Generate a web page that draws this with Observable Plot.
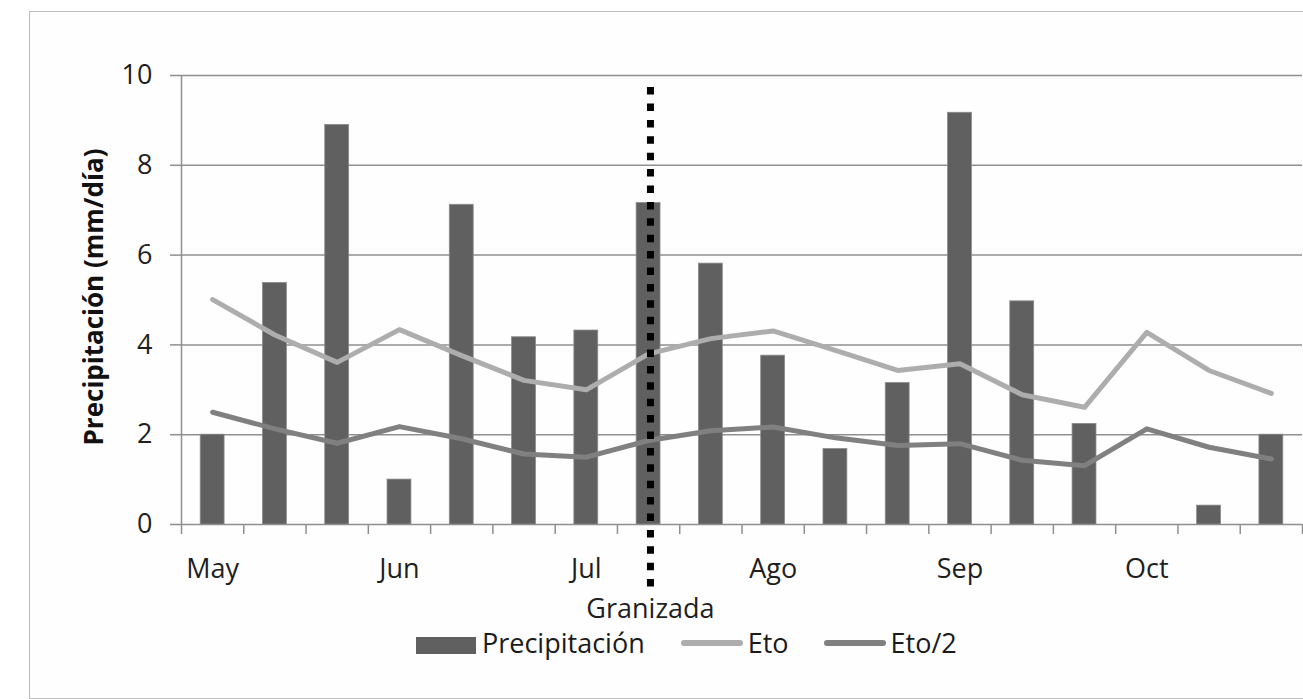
<!DOCTYPE html>
<html>
<head>
<meta charset="utf-8">
<script src="https://cdn.jsdelivr.net/npm/d3@7"></script>
<script src="https://cdn.jsdelivr.net/npm/@observablehq/plot@0.6"></script>
<style>
  html, body { margin: 0; padding: 0; background: #ffffff; }
  body { width: 1303px; height: 699px; overflow: hidden; position: relative; font-family: "Open Sans", sans-serif; }
  #frame { position: absolute; left: 29px; top: 11px; width: 1400px; height: 686px; border: 1px solid #bdbdbd; background: #fefefe; }
  #chart { position: absolute; left: 0; top: 0; }
  #legend { position: absolute; left: 0; top: 629px; height: 40px; display: flex; align-items: flex-start; padding-left: 416px; font-size: 27px; line-height: 27px; color: #1a1a1a; }
  #legend .sw-bar { width: 60px; height: 17px; background: #606060; margin-top: 8px; margin-right: 6px; }
  #legend .sw-line { width: 62px; height: 6px; border-radius: 3px; margin-top: 11px; margin-right: 5px; }
  #legend .item { display: flex; align-items: flex-start; }
</style>
</head>
<body>
<div id="frame"></div>
<div id="chart"></div>
<div id="legend"></div>
<script>
// Ten-day periods (decades) from May to October
const categories = [
  "May I", "May II", "May III",
  "Jun I", "Jun II", "Jun III",
  "Jul I", "Jul II", "Jul III",
  "Ago I", "Ago II", "Ago III",
  "Sep I", "Sep II", "Sep III",
  "Oct I", "Oct II", "Oct III"
];
const monthLabels = ["May", "Jun", "Jul", "Ago", "Sep", "Oct"];
const precipitacion = [2.0, 5.38, 8.90, 1.0, 7.12, 4.17, 4.32, 7.16, 5.81, 3.76, 1.68, 3.15, 9.17, 4.97, 2.24, 0, 0.42, 2.0];
const eto = [5.01, 4.22, 3.61, 4.34, 3.76, 3.21, 3.0, 3.80, 4.14, 4.31, 3.88, 3.43, 3.58, 2.89, 2.61, 4.28, 3.43, 2.92];
const eto2 = [2.50, 2.13, 1.81, 2.18, 1.91, 1.57, 1.50, 1.87, 2.09, 2.17, 1.93, 1.76, 1.80, 1.43, 1.31, 2.13, 1.72, 1.46];
const yTicks = [0, 2, 4, 6, 8, 10];
const seriesNames = ["Precipitación", "Eto", "Eto/2"];
const yLabel = "Precipitación (mm/día)";
// hail event, in decade units from the start of May
const granizada = [{at: 7.53, top: 9.73, bottom: -1.40, label: "Granizada"}];

const colBar = "#606060", colEto = "#adadad", colEto2 = "#808080", colGrid = "#8f8f8f", colText = "#1f1f1f";

const data = categories.map((c, i) => ({i, cat: c, precip: precipitacion[i], eto: eto[i], eto2: eto2[i]}));
const monthTicks = categories.map((c, i) => c.endsWith(" I") ? i + 0.5 : null).filter(v => v !== null);

const chart = Plot.plot({
  width: 1303,
  height: 625,
  marginLeft: 181,
  marginRight: 1,
  marginTop: 75,
  marginBottom: 101,
  x: {type: "linear", domain: [0, categories.length], label: null},
  y: {domain: [0, 10], label: null},
  style: {fontFamily: "Open Sans", fontSize: "27px", background: "transparent", overflow: "visible", color: colText},
  marks: [
    Plot.gridY(yTicks, {stroke: colGrid, strokeOpacity: 1, strokeWidth: 1.5}),
    Plot.axisY({ticks: yTicks, tickSize: 11, tickPadding: 18, stroke: colGrid, strokeWidth: 1.5, fill: colText, tickFormat: d => String(d), label: null}),
    Plot.ruleX([0], {y1: 0, y2: 10, stroke: colGrid, strokeWidth: 1.5}),
    Plot.axisX({ticks: d3.range(categories.length + 1), tickSize: 10, tickFormat: () => "", stroke: colGrid, strokeWidth: 1.5, label: null}),
    Plot.axisX({ticks: monthTicks, tickSize: 0, tickPadding: 34, tickFormat: (v, k) => monthLabels[k], fill: colText, label: null}),
    Plot.rectY(data, {x1: "i", x2: d => d.i + 1, y1: 0, y2: "precip", insetLeft: 19.2, insetRight: 19.2, fill: colBar, stroke: "#8a8a8a", strokeWidth: 0.8}),
    Plot.line(data, {x: d => d.i + 0.5, y: "eto", stroke: colEto, strokeWidth: 5, strokeLinejoin: "round", strokeLinecap: "round"}),
    Plot.line(data, {x: d => d.i + 0.5, y: "eto2", stroke: colEto2, strokeWidth: 5, strokeLinejoin: "round", strokeLinecap: "round"}),
    Plot.ruleX(granizada, {x: "at", y1: "top", y2: "bottom", stroke: "#000", strokeWidth: 7, strokeDasharray: "7.5 8.9"}),
    Plot.text(granizada, {x: "at", y: 0, dy: 85, text: "label", fill: colText, fontSize: 27}),
    Plot.text([yLabel], {frameAnchor: "left", textAnchor: "middle", rotate: -90, dx: -87, dy: -3, fontWeight: "bold", fontSize: 26, letterSpacing: 1.6, fill: "#111"})
  ]
});
document.getElementById("chart").appendChild(chart);

// Legend below the chart
const legend = document.getElementById("legend");
const items = [
  {name: seriesNames[0], kind: "bar", color: colBar, gap: 36},
  {name: seriesNames[1], kind: "line", color: colEto, gap: 35},
  {name: seriesNames[2], kind: "line", color: colEto2, gap: 0}
];
for (const it of items) {
  const el = document.createElement("div");
  el.className = "item";
  el.style.marginRight = it.gap + "px";
  const sw = document.createElement("div");
  sw.className = it.kind === "bar" ? "sw-bar" : "sw-line";
  sw.style.background = it.color;
  const tx = document.createElement("span");
  tx.textContent = it.name;
  el.appendChild(sw);
  el.appendChild(tx);
  legend.appendChild(el);
}
</script>
</body>
</html>
